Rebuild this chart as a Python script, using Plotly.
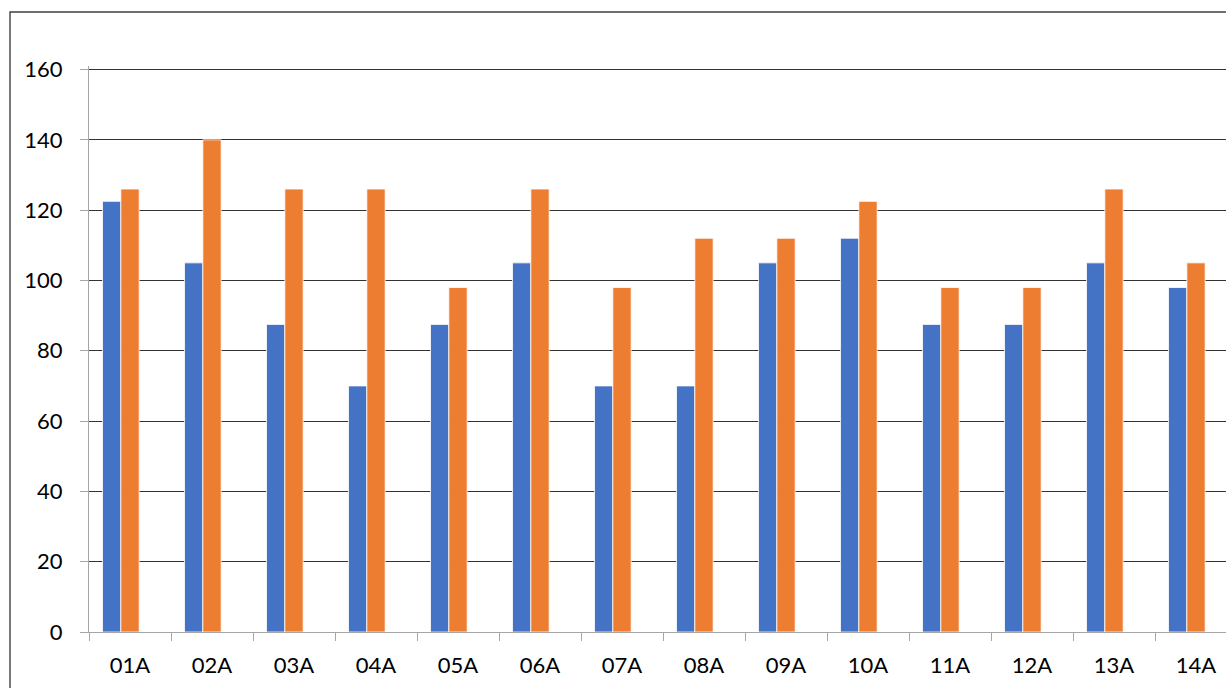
import plotly.graph_objects as go

categories = ["01A", "02A", "03A", "04A", "05A", "06A", "07A", "08A", "09A", "10A", "11A", "12A", "13A", "14A"]
series_blue = [122.5, 105, 87.5, 70, 87.5, 105, 70, 70, 105, 112, 87.5, 87.5, 105, 98]
series_orange = [126, 140, 126, 126, 98, 126, 98, 112, 112, 122.5, 98, 98, 126, 105]
series_third = [0] * len(categories)  # empty third series (reserves a slot in each group)
y_ticks = [0, 20, 40, 60, 80, 100, 120, 140, 160]

W, H = 1226, 688
ML, MB = 89, 56
px_per_unit = 562 / 160.0
y_top = 161
MT = int(round(H - MB - y_top * px_per_unit))
plot_w = W - ML
cat_px = 82.0  # width of one category in pixels
x_hi = -0.5 + plot_w / cat_px

fig = go.Figure()
fig.add_trace(go.Bar(x=categories, y=series_blue, marker=dict(color="#4472C4", line=dict(color="white", width=0.8)), showlegend=False))
fig.add_trace(go.Bar(x=categories, y=series_orange, marker=dict(color="#ED7D31", line=dict(color="white", width=0.8)), showlegend=False))
fig.add_trace(go.Bar(x=categories, y=series_third, marker=dict(color="#A5A5A5", line=dict(width=0)), showlegend=False, hoverinfo="skip"))

plot_h = H - MT - MB
bx0 = (10 - ML) / plot_w
by1 = (H - MB - 12) / plot_h

fig.update_layout(
    width=W, height=H,
    margin=dict(l=ML, r=0, t=MT, b=MB, pad=0),
    paper_bgcolor="white", plot_bgcolor="white",
    barmode="group", bargap=0.33, bargroupgap=0,
    font=dict(family="Lato, Liberation Sans, sans-serif", size=22, color="#000000"),
    xaxis=dict(
        type="category", range=[-0.5, x_hi], tickson="boundaries",
        showgrid=False, showline=True, linecolor="#A6A6A6", linewidth=1,
        ticks="outside", ticklen=8, tickcolor="#A6A6A6", tickwidth=1,
        tickfont=dict(size=22), zeroline=False, ticklabelstandoff=14,
    ),
    yaxis=dict(
        range=[0, y_top], tickvals=y_ticks, showgrid=True, gridcolor="#333333", gridwidth=1.2,
        showline=True, linecolor="#A6A6A6", linewidth=1,
        ticks="outside", ticklen=8, tickcolor="#A6A6A6", tickwidth=1,
        tickfont=dict(size=22), zeroline=False, ticklabelstandoff=13,
    ),
    shapes=[dict(type="rect", xref="paper", yref="paper", x0=bx0, x1=1.2, y0=-0.3, y1=by1,
                 line=dict(color="#404040", width=1.4), fillcolor="rgba(0,0,0,0)", layer="below")],
)

fig.write_html("out.html", config={"displayModeBar": False},
               post_script="document.body.style.margin='0';document.body.style.overflow='hidden';")
